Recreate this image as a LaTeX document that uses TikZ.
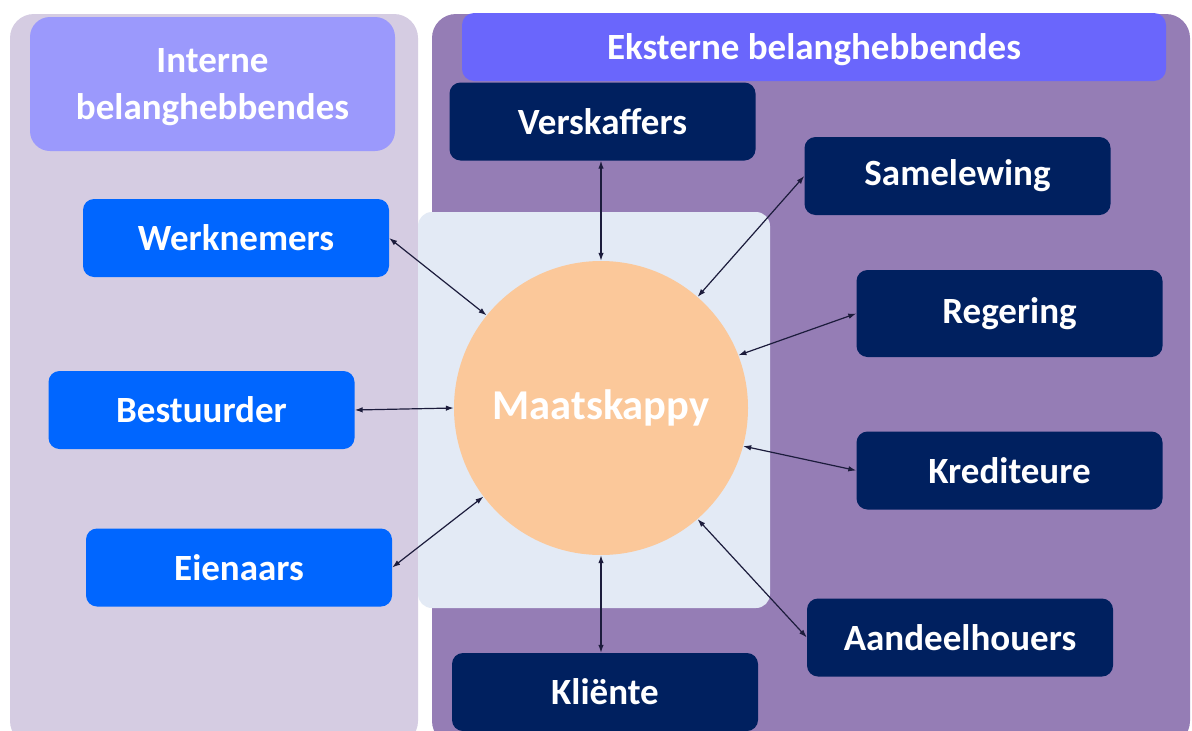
\documentclass[tikz,border=0pt]{standalone}
\usepackage{fontspec}
\setmainfont{Carlito}
\usetikzlibrary{arrows.meta}
\definecolor{leftpanel}{HTML}{D5CCE2}
\definecolor{rightpanel}{HTML}{957DB5}
\definecolor{inthead}{HTML}{9B99FC}
\definecolor{exthead}{HTML}{6A66FC}
\definecolor{navy}{HTML}{00205F}
\definecolor{brightblue}{HTML}{0066FF}
\definecolor{centersq}{HTML}{E3EAF5}
\definecolor{peach}{HTML}{FBC89A}
\definecolor{arrowcol}{HTML}{1C1C3C}
\tikzset{
  lbl/.style={font=\fontsize{37}{47}\selectfont\bfseries, text=white, align=center},
  intbox/.style={lbl, fill=brightblue, rounded corners=11pt, minimum width=306pt, minimum height=78pt, inner sep=0pt},
  extbox/.style={lbl, fill=navy, rounded corners=11pt, minimum width=306pt, minimum height=78pt, inner sep=0pt},
  link/.style={draw=arrowcol, line width=1.2pt, {Latex[length=8pt,width=5.5pt]}-{Latex[length=8pt,width=5.5pt]}}
}
\begin{document}
\begin{tikzpicture}[x=1pt,y=-1pt]
\useasboundingbox (0,0) rectangle (1192,731);
\fill[white] (0,0) rectangle (1192,731);
% panels
\fill[leftpanel, rounded corners=24pt] (10,14) rectangle (418,745);
\fill[rightpanel, rounded corners=24pt] (432,14) rectangle (1190,745);
% headers
\fill[inthead, rounded corners=20pt] (30,17) rectangle (395,151);
\node[lbl] (inthdr) at (212.5,87) {Interne\\belanghebbendes};
\fill[exthead, rounded corners=12pt] (462,13) rectangle (1166,81);
\node[lbl] (exthdr) at (814,50) {Eksterne belanghebbendes};
% centre square
\fill[centersq, rounded corners=14pt] (418,212) rectangle (770,608);
% circle
\node[circle, fill=peach, minimum size=294pt, inner sep=0pt, font=\fontsize{42.5}{50}\selectfont\bfseries, text=white] (c) at (601,408) {Maatskappy};
% internal
\node[intbox] (wer) at (236,238) {Werknemers};
\node[intbox] (bes) at (201.5,410) {Bestuurder};
\node[intbox] (eie) at (239,567.5) {Eienaars};
% external
\node[extbox] (ver) at (602.5,121.5) {Verskaffers};
\node[extbox] (sam) at (957.5,176) {Samelewing};
\node[extbox, minimum height=87pt] (reg) at (1009.5,313.5) {Regering};
\node[extbox] (kre) at (1009.5,470.5) {Krediteure};
\node[extbox] (aan) at (960,637.5) {Aandeelhouers};
\node[extbox] (kli) at (605,692) {Kliënte};
% links
\draw[link] (wer.east) -- (c.141);
\draw[link] (bes.east) -- (c.180);
\draw[link] (eie.east) -- (c.217);
\draw[link] (c.90) -- (c.90 |- ver.south);
\draw[link] (sam.west) -- (c.49);
\draw[link] (reg.west) -- (c.21);
\draw[link] (kre.west) -- (c.-15);
\draw[link] (aan.west) -- (c.-49);
\draw[link] (c.270) -- (c.270 |- kli.north);
\end{tikzpicture}
\end{document}
